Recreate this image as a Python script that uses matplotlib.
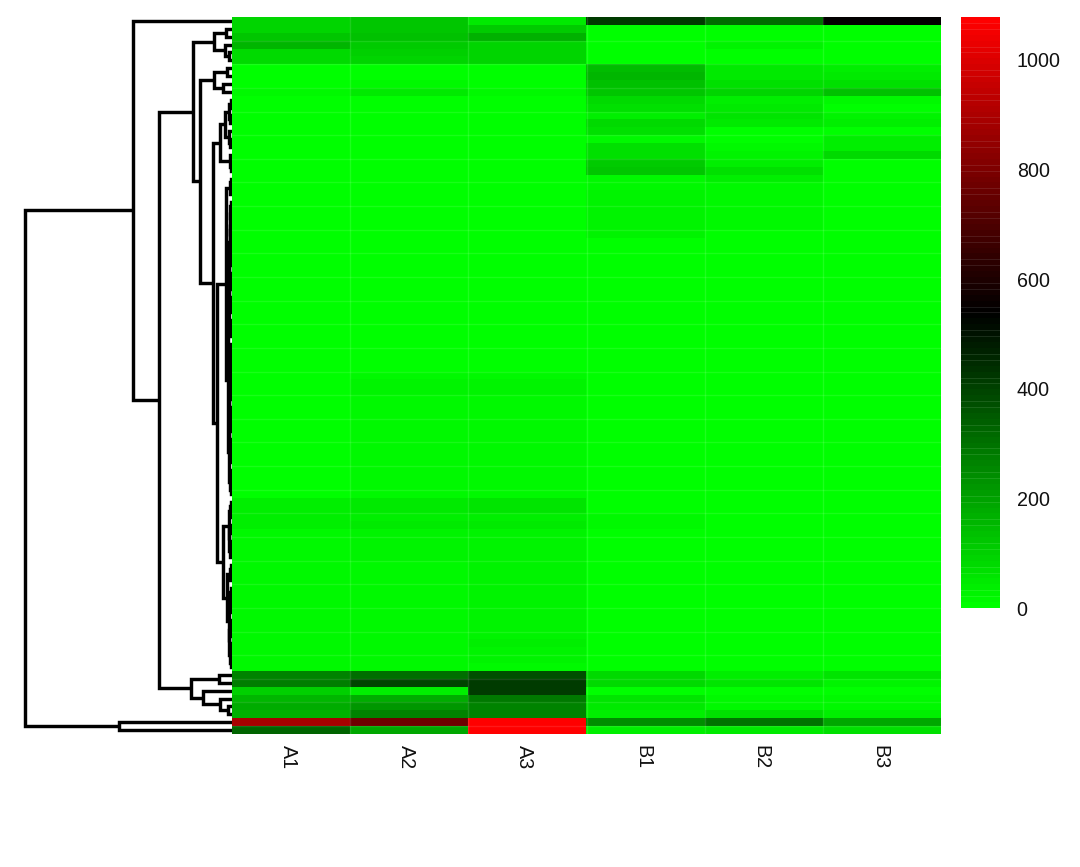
import numpy as np
import matplotlib
matplotlib.use("Agg")
import matplotlib.pyplot as plt
from matplotlib.colors import LinearSegmentedColormap
from matplotlib.transforms import ScaledTranslation

plt.rcParams['font.family'] = ['Liberation Sans', 'DejaVu Sans']

samples = ["A1", "A2", "A3", "B1", "B2", "B3"]

A1 = [95,90,125,160,85,85,4,4,6,18,
      5,5,4,4,4,4,3,3,3,3,
      3,3,4,4,4,4,4,4,3,3,
      3,4,4,4,3,3,3,4,4,6,
      8,8,8,6,6,6,8,10,10,10,
      10,8,8,8,8,8,10,10,8,6,
      8,38,42,40,40,20,18,18,18,16,
      14,16,18,18,16,16,14,12,12,12,
      12,12,12,
      265,275,105,160,175,170,888,328]
A2 = [125,125,135,110,100,95,10,8,12,45,
      8,8,6,5,5,5,5,5,5,5,
      4,4,4,4,4,4,4,4,4,4,
      4,4,4,4,4,4,5,5,6,6,
      8,8,8,8,10,12,25,24,18,18,
      16,14,14,14,14,14,16,14,12,12,
      14,48,50,42,45,28,24,24,22,20,
      18,18,18,20,18,16,16,16,15,14,
      14,14,14,
      305,390,40,180,220,265,772,190]
A3 = [45,110,170,90,95,95,5,4,5,15,
      4,4,3,3,4,3,3,3,3,3,
      3,3,3,4,4,4,4,4,4,4,
      4,4,4,4,4,4,4,5,5,6,
      8,8,8,8,10,12,24,22,16,16,
      16,16,16,16,18,18,18,18,14,14,
      16,55,58,38,52,28,26,26,24,24,
      24,24,22,24,24,26,28,26,26,38,
      22,22,20,
      370,420,420,285,265,265,1078,1078]
B1 = [420,3,3,4,4,4,150,155,130,125,
      80,70,35,80,75,15,75,75,115,125,
      15,15,25,30,30,30,30,25,10,10,
      6,6,6,6,5,5,5,5,5,5,
      4,4,4,4,4,4,4,4,4,4,
      4,4,4,4,3,3,3,3,3,3,
      6,8,8,15,12,6,5,5,4,4,
      4,4,3,3,3,3,3,3,3,3,
      3,3,3,
      85,85,5,60,50,35,243,40]
B2 = [310,3,3,22,3,3,50,45,75,90,
      40,45,60,50,5,10,15,30,35,75,
      35,15,12,12,15,15,15,10,6,6,
      4,4,4,4,4,4,4,4,4,4,
      4,4,4,4,4,4,4,4,3,3,
      3,3,3,3,3,3,3,3,3,3,
      4,5,5,6,6,4,3,3,3,3,
      3,3,3,3,3,3,3,3,3,3,
      3,3,3,
      40,55,10,20,15,75,296,50]
B3 = [545,4,5,8,5,5,40,45,65,140,
      12,10,30,40,6,35,35,85,8,10,
      5,8,8,8,8,6,5,5,4,4,
      4,4,4,4,4,4,4,4,4,4,
      4,4,4,4,4,4,4,4,3,3,
      3,3,3,3,3,3,3,3,3,3,
      4,5,5,5,5,4,3,3,3,3,
      3,3,3,3,3,3,3,3,3,3,
      3,3,3,
      60,30,10,20,20,40,190,70]

colorbar_ticks = [0, 200, 400, 600, 800, 1000]
value_max = 1078

# Row dendrogram: (merge height, upper branch, lower branch); L is a leaf
L = None
B2n = (1.2, L, L)
B3n = (1.7, B2n, L)
B4n = (2.0, B2n, B2n)
top_pairs = (18, (6, L, L), (7, L, (3, L, L)))
second_pairs = (18, (5, L, L), (9, L, L))
n212 = (12, (7, (3, (1.5, L, L), (1.8, L, L)), (3, L, (1.8, L, L))), (2.5, L, (1.5, L, L)))
upper_comb = (3.5, (3.0, (2.6, (2.3, (2.0, B3n, B3n), B3n), B3n), B3n), B3n)
lower_comb = (3.5, (3.0, (2.6, (2.2, B4n, B4n), B4n), B4n), B4n)
n226 = (6, (2.5, (1.5, L, L), L), (4, upper_comb, lower_comb))
n223 = (9, (3.5, B3n, (3, B2n, B3n)), (5, B3n, (3.5, B4n, (2.8, B3n, B4n))))
n217 = (15, n226, n223)
n200 = (32, second_pairs, (19, n212, n217))
n193 = (39, top_pairs, n200)
n191 = (41, (13, L, L), (29, L, (12, L, (4, L, L))))
n159 = (73, n193, n191)
n133 = (99, L, n159)
tree = (207, n133, (113, L, L))

data = np.array([A1, A2, A3, B1, B2, B3], dtype=float).T

W, H = 1080, 867
fig = plt.figure(figsize=(W / 100, H / 100), dpi=100, facecolor="white")


def axes_px(x0, y0, x1, y1, **kw):
    return fig.add_axes([x0 / W, 1 - y1 / H, (x1 - x0) / W, (y1 - y0) / H], **kw)


cmap = LinearSegmentedColormap.from_list("gbr", ["#00FF00", "#000000", "#FF0000"], N=100)

# Dendrogram
axd = axes_px(25, 17, 232, 734, zorder=1)
axd.set_xlim(207, 0)
axd.set_ylim(len(A1) - 0.5, -0.5)
axd.axis("off")
counter = [0]


def draw(node):
    if node is None:
        y = counter[0]
        counter[0] += 1
        return 0.0, float(y)
    h, up, low = node
    hu, yu = draw(up)
    hl, yl = draw(low)
    axd.plot([hu, h, h, hl], [yu, yu, yl, yl], color="black", lw=2.45,
             solid_joinstyle="miter", solid_capstyle="butt", clip_on=False)
    return h, (yu + yl) / 2


draw(tree)

# Heatmap
ax = axes_px(232, 17, 941, 734, zorder=2)
ax.imshow(data, cmap=cmap, vmin=0, vmax=value_max, aspect="auto", interpolation="nearest")
for i in range(3, len(A1), 3):
    ax.axhline(i - 0.5, color="white", alpha=0.10, lw=1)
for j in range(1, len(samples)):
    ax.axvline(j - 0.5, color="white", alpha=0.12, lw=1)
for s in ax.spines.values():
    s.set_visible(False)
ax.set_yticks([])
ax.set_xticks(range(len(samples)))
ax.set_xticklabels(samples, rotation=270, fontsize=14.2, ha="center", va="top", color="#111111")
ax.tick_params(axis="x", length=0, pad=8)
shift = ScaledTranslation(-2.5 / 100, 0, fig.dpi_scale_trans)
for lab in ax.get_xticklabels():
    lab.set_transform(lab.get_transform() + shift)

# Colour key
axc = axes_px(961, 17, 1000, 608, zorder=2)
levels = np.linspace(0, value_max, 100).reshape(-1, 1)
axc.imshow(levels, cmap=cmap, vmin=0, vmax=value_max, aspect="auto", origin="lower",
           extent=[0, 1, 0, value_max], interpolation="nearest")
band = value_max / 100
for k in range(2, 100, 4):
    for off in (0, 1):
        axc.axhline((k + off) * band, color="white", alpha=0.10, lw=0.8)
for s in axc.spines.values():
    s.set_visible(False)
axc.set_xticks([])
axc.yaxis.tick_right()
axc.set_yticks(colorbar_ticks)
axc.set_yticklabels([str(t) for t in colorbar_ticks], fontsize=14.2, color="#111111")
axc.tick_params(axis="y", length=0, pad=12)

fig.savefig("out.png", dpi=100, facecolor="white")
